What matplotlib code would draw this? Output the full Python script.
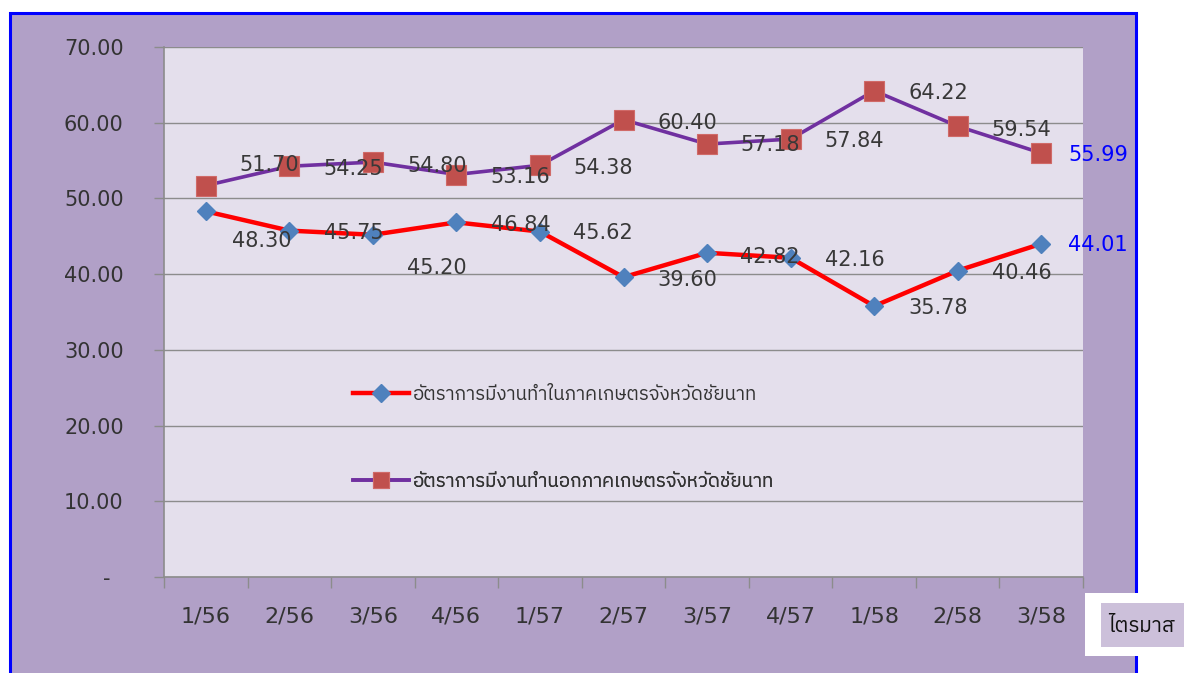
import matplotlib
matplotlib.use("Agg")
import matplotlib.pyplot as plt
from matplotlib.patches import Rectangle
from matplotlib.lines import Line2D
from matplotlib import font_manager as fm
from matplotlib.ft2font import FT2Font

# ---------------- data ----------------
quarters = ["1/56", "2/56", "3/56", "4/56", "1/57", "2/57", "3/57", "4/57", "1/58", "2/58", "3/58"]
agri_rate = [48.30, 45.75, 45.20, 46.84, 45.62, 39.60, 42.82, 42.16, 35.78, 40.46, 44.01]
nonagri_rate = [51.70, 54.25, 54.80, 53.16, 54.38, 60.40, 57.18, 57.84, 64.22, 59.54, 55.99]
agri_label = "อัตราการมีงานทำในภาคเกษตรจังหวัดชัยนาท"
nonagri_label = "อัตราการมีงานทำนอกภาคเกษตรจังหวัดชัยนาท"
yticks = [0, 10, 20, 30, 40, 50, 60, 70]
ytick_labels = ["-  ", "10.00", "20.00", "30.00", "40.00", "50.00", "60.00", "70.00"]
x_axis_title = "ไตรมาส"

# label offsets (pixels) relative to each point
agri_offsets = [(56, -30), (64, -2), (64, -33), (64, -3), (63, -1), (64, -3),
                (63, -4), (64, -2), (64, -2), (64, -2), (57, -1)]
nonagri_offsets = [(63, 21), (64, -3), (64, -4), (64, -2), (63, -3), (64, -3),
                   (63, -1), (64, -2), (64, -2), (64, -4), (57, -2)]

# ---------------- find a Thai-capable font ----------------
preferred = []
others = []
for f in fm.fontManager.ttflist:
    try:
        cm = FT2Font(f.fname).get_charmap()
    except Exception:
        continue
    if 0x0E2D in cm and 0x0E17 in cm:
        if "Thai" in f.name or "Tahoma" in f.name:
            preferred.append(f.name)
        else:
            others.append(f.name)
cands = preferred + others
thai_family = cands[0] if cands else None
thai_fonts = ([thai_family] if thai_family else []) + ["DejaVu Sans"]

plt.rcParams["font.family"] = ["DejaVu Sans"]

W, H = 1184, 673
fig = plt.figure(figsize=(W / 100, H / 100), dpi=100, facecolor="white")

def fx(px):
    return px / W

def fy(py):
    return 1 - py / H

# outer purple chart area with blue frame
fig.patches.append(Rectangle((fx(9.5), fy(700)), fx(1136) - fx(9.5), fy(13) - fy(700),
                             transform=fig.transFigure, facecolor="#B1A0C7",
                             edgecolor="#0000FF", linewidth=2.2, zorder=-10))

ax = fig.add_axes([fx(164), fy(577), fx(1083) - fx(164), fy(47) - fy(577)])
ax.set_zorder(1)
ax.set_facecolor("#E4DFEC")

x = list(range(len(quarters)))
ax.plot(x, agri_rate, color="#FF0000", linewidth=3.2, marker="D", markersize=9.5,
        markerfacecolor="#4F81BD", markeredgecolor="#4F81BD", zorder=3)
ax.plot(x, nonagri_rate, color="#7030A0", linewidth=2.6, marker="s", markersize=14,
        markerfacecolor="#C0504D", markeredgecolor="#D06A68", markeredgewidth=0.8, zorder=3)

label_color = "#383838"
for i, v in enumerate(agri_rate):
    last = i == len(agri_rate) - 1
    ax.annotate(f"{v:.2f}", (x[i], v), xytext=agri_offsets[i], textcoords="offset pixels",
                ha="center", va="center", fontsize=15,
                color="#0000FF" if last else label_color, zorder=5,
                annotation_clip=False)
for i, v in enumerate(nonagri_rate):
    last = i == len(nonagri_rate) - 1
    ax.annotate(f"{v:.2f}", (x[i], v), xytext=nonagri_offsets[i], textcoords="offset pixels",
                ha="center", va="center", fontsize=15,
                color="#0000FF" if last else label_color, zorder=5,
                annotation_clip=False)

ax.set_xlim(-0.5, len(quarters) - 0.5)
ax.set_ylim(0, 70)
ax.set_yticks(yticks)
ax.set_yticklabels(ytick_labels)
ax.set_xticks(x)
ax.set_xticklabels(quarters)
ax.set_xticks([i - 0.5 for i in range(len(quarters) + 1)], minor=True)
ax.tick_params(axis="x", which="major", length=0, pad=21, labelsize=16, labelcolor="#333333")
ax.tick_params(axis="x", which="minor", length=8, width=1, color="#8C8C8C", direction="out")
ax.tick_params(axis="y", which="major", length=7, width=1, color="#8C8C8C", pad=22,
               labelsize=15, labelcolor="#333333")
ax.grid(axis="y", color="#8C8C8C", linewidth=1)
ax.set_axisbelow(True)
for s in ["top", "right"]:
    ax.spines[s].set_visible(False)
for s in ["left", "bottom"]:
    ax.spines[s].set_color("#8C8C8C")
    ax.spines[s].set_linewidth(1.2)

# legends (two separate entries)
h1 = Line2D([], [], color="#FF0000", linewidth=3.2, marker="D", markersize=9,
            markerfacecolor="#4F81BD", markeredgecolor="#4F81BD")
h2 = Line2D([], [], color="#7030A0", linewidth=2.6, marker="s", markersize=12,
            markerfacecolor="#C0504D", markeredgecolor="#D06A68", markeredgewidth=0.8)
leg_x = (353 - 164) / 919
for h, lab, ypx in [(h1, agri_label, 395), (h2, nonagri_label, 482)]:
    leg = ax.legend(handles=[h], labels=[lab], loc="center left",
                    bbox_to_anchor=(leg_x, (577 - ypx) / 530), frameon=False,
                    borderpad=0, borderaxespad=0, handlelength=3.0, handletextpad=0.2,
                    prop={"family": thai_fonts, "size": 13.5}, labelcolor="#333333")
    ax.add_artist(leg)

# bottom-right axis title box
fig.patches.append(Rectangle((fx(1085), fy(656)), fx(1184) - fx(1085), fy(593) - fy(656),
                             transform=fig.transFigure, facecolor="white",
                             edgecolor="none", zorder=2))
fig.patches.append(Rectangle((fx(1101), fy(647)), fx(1184) - fx(1101), fy(603) - fy(647),
                             transform=fig.transFigure, facecolor="#CCC0DA",
                             edgecolor="none", zorder=3))
fig.text(fx(1108), fy(626), x_axis_title, ha="left", va="center", fontsize=15,
         color="#111111", family=thai_fonts, zorder=4)

fig.savefig("out.png", dpi=100, facecolor="white")
